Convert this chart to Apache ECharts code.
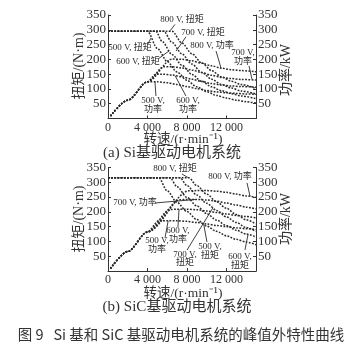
<!DOCTYPE html>
<html><head><meta charset="utf-8">
<script src="https://cdn.jsdelivr.net/npm/echarts@6/dist/echarts.min.js"></script>
<style>html,body{margin:0;padding:0;background:#fff}#c{width:363px;height:359px}</style>
</head><body><div id="c"></div>
<script>
// ---------- data (speed r/min, value) ----------
const speedMax = 15000;
const speedInterval = 4000;
const valueMax = 350;
const valueInterval = 50;

// (a) Si  - torque N·m
const siT500 = [[0,295],[3500,295],[4000,295],[5000,237],[6000,193],[7000,157],[8000,129],[9000,107],[10000,91],[11000,78],[12000,69],[13000,62],[14000,57],[15000,52]];
const siT600 = [[0,295],[4400,295],[4850,295],[5500,260],[6500,216],[7500,180],[8500,149],[9500,126],[10500,107],[11500,94],[12500,84],[13500,76],[15000,67]];
const siT700 = [[0,295],[5200,295],[5650,295],[6500,257],[7500,218],[8500,184],[9500,156],[10500,133],[11500,115],[12500,103],[13500,93],[15000,83]];
const siT800 = [[0,295],[6000,295],[6500,295],[7500,255],[8500,219],[9500,188],[10500,162],[11500,141],[12500,126],[13500,115],[15000,101]];
// (a) Si  - power kW
const siP500 = [[250,8],[2000,62],[4000,124],[5000,124],[6000,121],[7000,115],[8000,108],[9000,101],[10000,95],[11000,90],[12000,87],[13000,85],[14000,83],[15000,82]];
const siP600 = [[250,8],[2000,62],[4000,124],[4850,150],[5500,150],[6500,147],[7500,141],[8500,133],[9500,125],[10500,118],[11500,113],[12500,110],[13500,108],[15000,106]];
const siP700 = [[250,8],[2000,62],[4000,124],[5650,175],[6500,175],[7500,171],[8500,164],[9500,155],[10500,146],[11500,139],[12500,135],[13500,132],[15000,130]];
const siP800 = [[250,8],[2000,62],[4000,124],[6500,201],[7500,200],[8500,195],[9500,187],[10500,178],[11500,170],[12500,165],[13500,162],[15000,158]];

// (b) SiC - torque N·m
const sicT500 = [[0,315],[4700,315],[5150,315],[6000,271],[7000,232],[8000,201],[9000,174],[10000,152],[11000,134],[12000,119],[13000,107],[14000,98],[15000,89]];
const sicT600 = [[0,315],[5800,315],[6300,315],[7000,285],[8000,249],[9000,220],[10000,194],[11000,172],[12000,154],[13000,138],[14000,125],[15000,115]];
const sicT700 = [[0,315],[6800,315],[7300,315],[8000,289],[9000,257],[10000,229],[11000,205],[12000,183],[13000,164],[14000,147],[15000,134]];
const sicT800 = [[0,315],[7700,315],[8200,315],[9000,289],[10000,260],[11000,234],[12000,212],[13000,191],[14000,173],[15000,159]];
// (b) SiC - power kW
const sicP500 = [[250,8],[2000,66],[4000,132],[5150,170],[6000,170],[7000,170],[8000,168],[9000,164],[10000,159],[11000,154],[12000,150],[13000,146],[14000,143],[15000,140]];
const sicP600 = [[250,8],[2000,66],[4000,132],[6300,208],[7000,209],[8000,209],[9000,207],[10000,203],[11000,198],[12000,193],[13000,188],[14000,184],[15000,180]];
const sicP700 = [[250,8],[2000,66],[4000,132],[7300,241],[8000,242],[9000,242],[10000,240],[11000,236],[12000,230],[13000,223],[14000,216],[15000,210]];
const sicP800 = [[250,8],[2000,66],[4000,132],[8200,271],[9000,272],[10000,272],[11000,270],[12000,266],[13000,260],[14000,254],[15000,249]];

// annotations: [panel, text, labelPos(data), leaderStart(data), leaderEnd(data)]
const notesA = [
  ['800 V, 扭矩', [7500,333], [6790,318], [6300,297]],
  ['700 V, 扭矩', [9630,289], [7900,276], [6900,228]],
  ['800 V, 功率', [10540,245], [10950,228], [11450,171]],
  ['700 V,\n功率', [13680,207], [14290,178], [14600,132]],
  ['500 V, 扭矩', [2230,238], [4050,252], [4350,272]],
  ['600 V, 扭矩', [3040,191], [5070,201], [6200,229]],
  ['500 V,\n功率', [4560,45], [4860,76], [4760,124]],
  ['600 V,\n功率', [8110,45], [7900,76], [6800,145]]
];
const notesB = [
  ['800 V, 扭矩', [6790,345], [7500,328], [8100,316]],
  ['800 V, 功率', [12360,318], [14090,298], [14400,252]],
  ['700 V, 功率', [2740,230], [4760,230], [8900,242]],
  ['600 V,\n功率', [7090,122], [7090,149], [7200,209]],
  ['500 V,\n功率', [4970,88], [5780,112], [6100,170]],
  ['700 V,\n扭矩', [7800,41], [8010,71], [10640,214]],
  ['500 V,\n扭矩', [10340,68], [10030,98], [9700,158]],
  ['600 V,\n扭矩', [13380,34], [13880,71], [14190,123]]
];

// ---------- chart ----------
const SERIF = '"Liberation Serif","Times New Roman","Noto Sans CJK SC",serif';
const INK = '#333';
const chart = echarts.init(document.getElementById('c'), null, {renderer:'canvas'});

function fmtSpeed(v){
  if (v >= speedMax) return '';
  if (v === 0) return '0';
  const s = String(v);
  return s.slice(0, s.length-3) + ' ' + s.slice(-3);
}
function xAx(g){
  return {gridIndex:g, type:'value', min:0, max:speedMax, interval:speedInterval,
    axisLine:{show:true, lineStyle:{color:INK, width:1}},
    axisTick:{show:true, inside:true, length:3, lineStyle:{color:INK}},
    axisLabel:{show:true, formatter:fmtSpeed, margin:3, color:INK, fontFamily:SERIF, fontSize:12, showMaxLabel:false},
    splitLine:{show:false}};
}
function yAx(g, pos){
  return {gridIndex:g, type:'value', position:pos, min:0, max:valueMax, interval:valueInterval,
    axisLine:{show:true, onZero:false, lineStyle:{color:INK, width:1}},
    axisTick:{show:true, inside:true, length:3, lineStyle:{color:INK}},
    axisLabel:{show:true, formatter:(v)=> v===0 ? '' : String(v), margin:2, color:INK, fontFamily:SERIF, fontSize:13},
    splitLine:{show:false}};
}
function ln(data, xi, yi){
  return {type:'line', data:data, xAxisIndex:xi, yAxisIndex:yi, showSymbol:false, symbol:'none',
    smooth:0.3, smoothMonotone:'x', silent:true,
    lineStyle:{color:'#2a2a2a', width:1.5, type:[1.8,1.4]}};
}

const option = {
  animation:false,
  backgroundColor:'#fff',
  grid:[
    {left:108, top:15, width:148, height:103.5},
    {left:108, top:167.5, width:148, height:103.5}
  ],
  xAxis:[xAx(0), xAx(1)],
  yAxis:[yAx(0,'left'), yAx(0,'right'), yAx(1,'left'), yAx(1,'right')],
  series:[
    ln(siT500,0,0), ln(siT600,0,0), ln(siT700,0,0), ln(siT800,0,0),
    ln(siP500,0,1), ln(siP600,0,1), ln(siP700,0,1), ln(siP800,0,1),
    ln(sicT500,1,2), ln(sicT600,1,2), ln(sicT700,1,2), ln(sicT800,1,2),
    ln(sicP500,1,3), ln(sicP600,1,3), ln(sicP700,1,3), ln(sicP800,1,3)
  ]
};
chart.setOption(option);

function txt(x, y, text, size, opts){
  opts = opts || {};
  return {type:'text', x:x, y:y, rotation:opts.rot||0, silent:true,
    style:{text:text, x:0, y:0, align:'center', verticalAlign:'middle',
      fill:opts.fill||INK, font:(opts.weight||'normal')+' '+size+'px '+(opts.family||SERIF),
      lineHeight:opts.lh||size}};
}
const gfx = [];
function addNotes(notes, xi, yi){
  notes.forEach(function(n){
    const p = chart.convertToPixel({xAxisIndex:xi, yAxisIndex:yi}, n[1]);
    const a = chart.convertToPixel({xAxisIndex:xi, yAxisIndex:yi}, n[2]);
    const b = chart.convertToPixel({xAxisIndex:xi, yAxisIndex:yi}, n[3]);
    gfx.push(txt(p[0], p[1], n[0], 9, {lh:8.5, fill:'#2a2a2a'}));
    gfx.push({type:'line', silent:true, shape:{x1:a[0], y1:a[1], x2:b[0], y2:b[1]},
      style:{stroke:'#2a2a2a', lineWidth:0.9}});
  });
}
addNotes(notesA, 0, 0);
addNotes(notesB, 1, 2);

// axis names and captions
gfx.push(txt(79, 66, '扭矩/(N·m)', 14, {rot:Math.PI/2}));
gfx.push(txt(286, 70, '功率/kW', 14, {rot:Math.PI/2}));
gfx.push(txt(183, 139, '转速/(r·min⁻¹)', 13.5));
gfx.push(txt(172, 153, '(a) Si基驱动电机系统', 15));
gfx.push(txt(79, 219, '扭矩/(N·m)', 14, {rot:Math.PI/2}));
gfx.push(txt(286, 219, '功率/kW', 14, {rot:Math.PI/2}));
gfx.push(txt(183, 293, '转速/(r·min⁻¹)', 13.5));
gfx.push(txt(177, 307, '(b) SiC基驱动电机系统', 15));
gfx.push(txt(181, 334, '图 9   Si 基和 SiC 基驱动电机系统的峰值外特性曲线', 14.5,
  {family:'"Noto Sans CJK SC","Liberation Serif",sans-serif', fill:'#333'}));

chart.setOption({graphic:{elements:gfx}});
</script>
</body></html>
